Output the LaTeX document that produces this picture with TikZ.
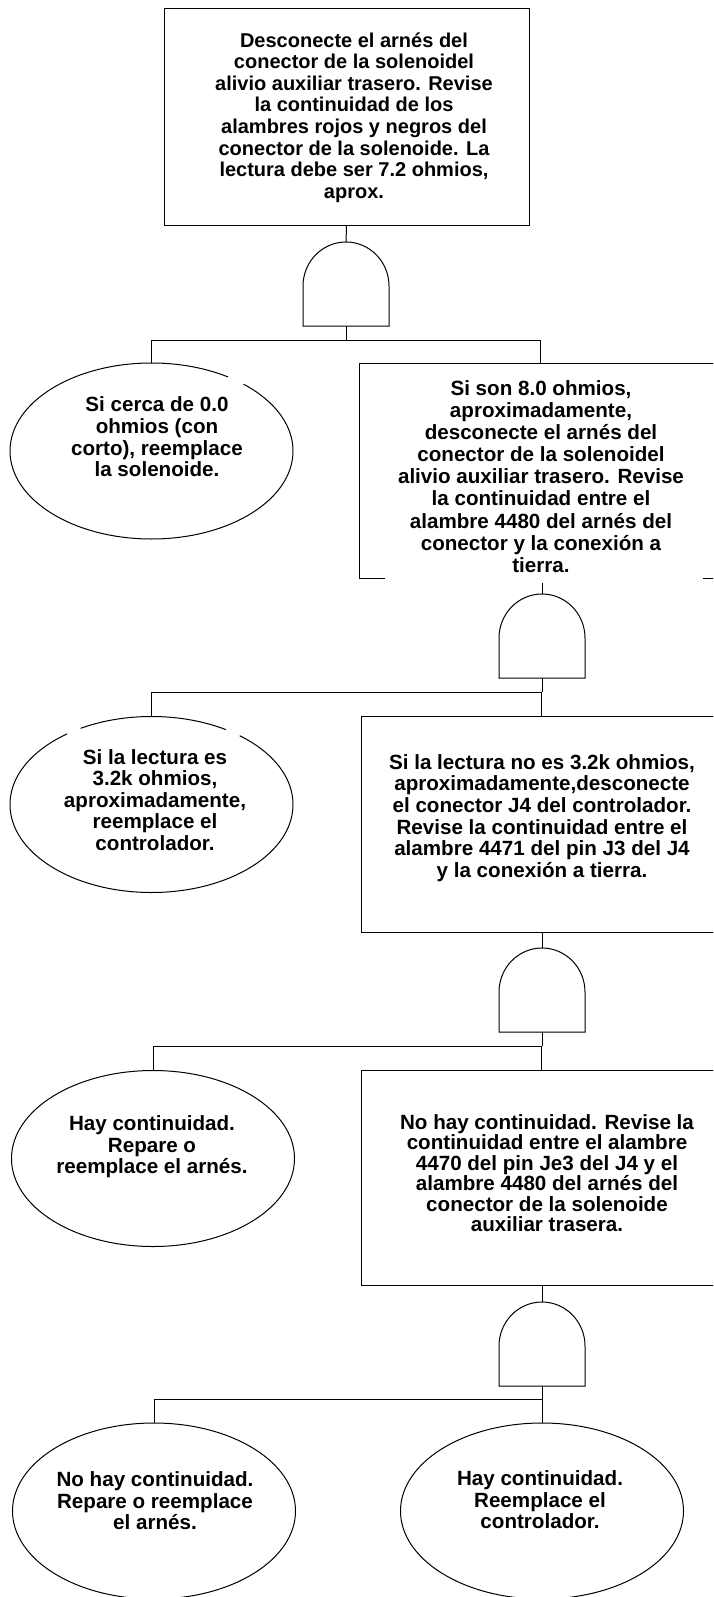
\documentclass[tikz,border=0pt]{standalone}
\usepackage{fontspec}
\setmainfont{Liberation Sans}
\usetikzlibrary{shapes.geometric}
\newcommand\gatesym[3]{% name, centre x, top y
  \coordinate (#1t) at (#2,#3);
  \coordinate (#1b) at (#2,#3+84);
  \draw[ln] (#2-43,#3+84) -- (#2-43,#3+44)
    .. controls (#2-43,#3+20) and (#2-24,#3) .. (#2,#3)
    .. controls (#2+24,#3) and (#2+43,#3+20) .. (#2+43,#3+44)
    -- (#2+43,#3+84) -- cycle;}
\begin{document}
\begin{tikzpicture}[x=1pt,y=-1pt,
  every node/.style={inner sep=0pt, outer sep=0pt},
  ln/.style={draw=black, line width=1pt},
  gap/.style={draw=white, line width=3pt},
  box/.style={rectangle, draw=black, line width=1pt},
  oval/.style={ellipse, draw=black, line width=1pt, minimum width=283pt, minimum height=176pt},
  txt/.style={font=\bfseries\fontsize{20.6}{21.6}\selectfont, align=center, text=black}]
\clip (0,0) rectangle (713,1597);
\fill[white] (0,0) rectangle (713,1597);

% ---------- level 1 ----------
\node[box, minimum width=365pt, minimum height=217pt] (b1) at (346.5,117.5) {};
\node[txt, font=\bfseries\fontsize{20}{21.6}\selectfont] (b1t) at (354,117.5) {Desconecte el arnés del\\conector de la solenoidel\\alivio auxiliar trasero. Revise\\la continuidad de los\\alambres rojos y negros del\\conector de la solenoide. La\\lectura debe ser 7.2 ohmios,\\aprox.};
\gatesym{g1}{346}{242}
\coordinate (h1) at (0,340);
\node[oval] (e1) at (151.5,451) {};
\draw[gap] (e1.36) -- (e1.44);
\node[txt] (e1t) at (157,437) {Si cerca de 0.0\\ohmios (con\\corto), reemplace\\la solenoide.};
\node[minimum width=363pt, minimum height=215pt] (b2) at (540.5,470.5) {};
\draw[ln] (b2.south west) -- (b2.north west) -- (b2.north east) -- (b2.south east) -- ++(-19,0);
\draw[ln] (b2.south west) -- ++(26,0);
\node[txt, font=\bfseries\fontsize{20.6}{22.1}\selectfont] (b2t) at (541,476.5) {Si son 8.0 ohmios,\\aproximadamente,\\desconecte el arnés del\\conector de la solenoidel\\alivio auxiliar trasero. Revise\\la continuidad entre el\\alambre 4480 del arnés del\\conector y la conexión a\\tierra.};
\draw[ln] (b1.south) -- (g1t);
\draw[ln] (g1b) -- (g1b |- h1);
\draw[ln] (e1.north) -- (e1.north |- h1) -- (b2.north |- h1) -- (b2.north);

% ---------- level 2 ----------
\gatesym{g2}{542}{594}
\coordinate (h2) at (0,692);
\node[oval] (e2) at (151.5,804.5) {};
\draw[gap] (e2.133) -- (e2.140);
\draw[gap] (e2.38) -- (e2.45);
\node[txt] (e2t) at (155,800) {Si la lectura es\\3.2k ohmios,\\aproximadamente,\\reemplace el\\controlador.};
\node[box, minimum width=361pt, minimum height=216pt] (b3) at (541.5,824) {};
\node[txt] (b3t) at (542,818) {Si la lectura no es 3.2k ohmios,\\aproximadamente,desconecte\\el conector J4 del controlador.\\Revise la continuidad entre el\\alambre 4471 del pin J3 del J4\\y la conexión a tierra.};
\draw[ln] (g2t) -- ++(0,-11);
\draw[ln] (g2b) -- (g2b |- h2);
\draw[ln] (e2.north) -- (e2.north |- h2) -- (b3.north |- h2) -- (b3.north);

% ---------- level 3 ----------
\gatesym{g3}{542}{948}
\coordinate (h3) at (0,1046);
\node[oval] (e3) at (153,1158.5) {};
\node[txt] (e3t) at (152,1147) {Hay continuidad.\\Repare o\\reemplace el arnés.};
\node[box, minimum width=361pt, minimum height=215pt] (b4) at (541.5,1177.5) {};
\node[txt, font=\bfseries\fontsize{20.6}{20.5}\selectfont] (b4t) at (547,1173) {No hay continuidad. Revise la\\continuidad entre el alambre\\4470 del pin Je3 del J4 y el\\alambre 4480 del arnés del\\conector de la solenoide\\auxiliar trasera.};
\draw[ln] (b3.south -| g3t) -- (g3t);
\draw[ln] (g3b) -- (g3b |- h3);
\draw[ln] (e3.north) -- (e3.north |- h3) -- (b4.north |- h3) -- (b4.north);

% ---------- level 4 ----------
\gatesym{g4}{542}{1302}
\coordinate (h4) at (0,1399);
\node[oval] (e4) at (154,1511) {};
\node[txt] (e4t) at (155,1501) {No hay continuidad.\\Repare o reemplace\\el arnés.};
\node[oval] (e5) at (542,1511) {};
\node[txt] (e5t) at (540,1500) {Hay continuidad.\\Reemplace el\\controlador.};
\draw[ln] (b4.south -| g4t) -- (g4t);
\draw[ln] (g4b) -- (g4b |- h4);
\draw[ln] (e4.north) -- (e4.north |- h4) -- (e5.north |- h4) -- (e5.north);
\end{tikzpicture}
\end{document}
